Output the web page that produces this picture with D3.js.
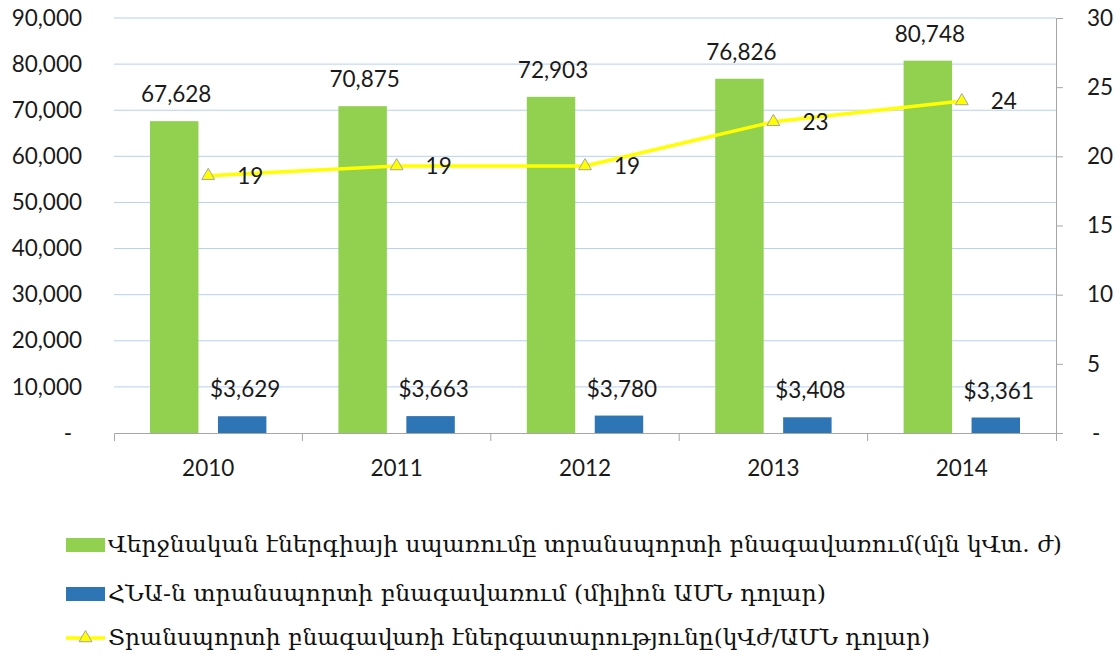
<!DOCTYPE html>
<html>
<head>
<meta charset="utf-8">
<script src="https://cdn.jsdelivr.net/npm/d3@7"></script>
<style>
  body { margin: 0; background: #fff; }
  svg { display: block; }
  .num { font-family: Lato, "Open Sans", sans-serif; font-size: 22.5px; fill: #1a1a1a; }
  .legend text { font-family: "DejaVu Serif", "DejaVu Sans", serif; font-size: 23px; fill: #111; }
</style>
</head>
<body>
<script>
// Years on the category axis
const years = ["2010", "2011", "2012", "2013", "2014"];
// Final energy consumption in transport (million kWh)
const energyUse = [67628, 70875, 72903, 76826, 80748];
// Transport-sector GDP (million USD)
const transportGdp = [3629, 3663, 3780, 3408, 3361];
// Energy intensity of the transport sector (kWh per USD)
const energyIntensity = [18.6, 19.3, 19.3, 22.5, 24.0];
// Axis tick values
const leftTicks = [0, 10000, 20000, 30000, 40000, 50000, 60000, 70000, 80000, 90000];
const rightTicks = [0, 5, 10, 15, 20, 25, 30];
// Legend entries
const legendLabels = [
  "Վերջնական էներգիայի սպառումը տրանսպորտի բնագավառում(մլն կՎտ. ժ)",
  "ՀՆԱ-ն տրանսպորտի բնագավառում (միլիոն ԱՄՆ դոլար)",
  "Տրանսպորտի բնագավառի էներգատարությունը(կՎժ/ԱՄՆ դոլար)"
];

const W = 1120, H = 659;
const plot = { left: 114, right: 1056, top: 18, bottom: 433 };
const colors = { energy: "#92d050", gdp: "#2e75b6", line: "#ffff00", marker: "#a5a5a5" };

const svg = d3.select("body").append("svg").attr("width", W).attr("height", H);

const x = d3.scaleBand().domain(years).range([plot.left, plot.right]);
const xs = d3.scaleBand().domain(["energy", "gdp"]).range([0, x.bandwidth()])
  .paddingInner(0.287).paddingOuter(0.53);
const yL = d3.scaleLinear().domain([0, 90000]).range([plot.bottom, plot.top]);
const yR = d3.scaleLinear().domain([0, 30]).range([plot.bottom, plot.top]);

// Horizontal gridlines
svg.append("g").selectAll("line").data(leftTicks.filter(d => d > 0)).join("line")
  .attr("x1", plot.left).attr("x2", plot.right)
  .attr("y1", d => yL(d)).attr("y2", d => yL(d))
  .attr("stroke", "#b7d0f0").attr("stroke-width", 1);

// Left axis: labels only
const fmt = d3.format(",");
const gL = svg.append("g").attr("transform", `translate(${plot.left},0)`)
  .call(d3.axisLeft(yL).tickValues(leftTicks).tickSize(0).tickPadding(32)
    .tickFormat(d => d === 0 ? "-" : fmt(d)));
gL.select(".domain").remove();
gL.selectAll("text").attr("class", "num").attr("font-family", null).attr("font-size", null)
  .attr("dx", d => d === 0 ? -10 : 0);

// Right axis
const gR = svg.append("g").attr("transform", `translate(${plot.right},0)`)
  .call(d3.axisRight(yR).tickValues(rightTicks).tickSizeInner(7).tickSizeOuter(0).tickPadding(24)
    .tickFormat(d => d === 0 ? "-" : d));
gR.select(".domain").attr("stroke", "#a6a6a6");
gR.selectAll(".tick line").attr("stroke", "#a6a6a6");
gR.selectAll("text").attr("class", "num").attr("font-family", null).attr("font-size", null)
  .attr("dx", d => d === 0 ? 5 : 0);

// Bars
const groups = svg.append("g").selectAll("g").data(years).join("g")
  .attr("transform", d => `translate(${x(d)},0)`);

groups.append("rect")
  .attr("x", xs("energy")).attr("width", xs.bandwidth())
  .attr("y", (d, i) => yL(energyUse[i])).attr("height", (d, i) => yL(0) - yL(energyUse[i]))
  .attr("fill", colors.energy);

groups.append("rect")
  .attr("x", xs("gdp")).attr("width", xs.bandwidth())
  .attr("y", (d, i) => yL(transportGdp[i])).attr("height", (d, i) => yL(0) - yL(transportGdp[i]))
  .attr("fill", colors.gdp);

groups.append("text").attr("class", "num").attr("text-anchor", "middle")
  .attr("x", xs("energy") + xs.bandwidth() / 2 + 2)
  .attr("y", (d, i) => yL(energyUse[i]) - 19)
  .text((d, i) => fmt(energyUse[i]));

groups.append("text").attr("class", "num").attr("text-anchor", "middle")
  .attr("x", xs("gdp") + xs.bandwidth() / 2 + 3)
  .attr("y", (d, i) => yL(transportGdp[i]) - 19)
  .text((d, i) => "$" + fmt(transportGdp[i]));

// Bottom axis
const gX = svg.append("g").attr("transform", `translate(0,${plot.bottom})`)
  .call(d3.axisBottom(x).tickSizeInner(0).tickSizeOuter(8).tickPadding(27));
gX.select(".domain").attr("stroke", "#a6a6a6");
gX.selectAll(".tick line").remove();
gX.selectAll("text").attr("class", "num").attr("font-family", null).attr("font-size", null);
gX.selectAll(".boundary").data(years.slice(1)).join("line").attr("class", "boundary")
  .attr("x1", d => x(d)).attr("x2", d => x(d)).attr("y1", 0).attr("y2", 8)
  .attr("stroke", "#a6a6a6");

// Energy-intensity line
const cx = (d, i) => x(years[i]) + x.bandwidth() / 2;
const line = d3.line().x((d, i) => cx(d, i)).y(d => yR(d));
svg.append("path").datum(energyIntensity)
  .attr("d", line).attr("fill", "none")
  .attr("stroke", colors.line).attr("stroke-width", 3.5).attr("stroke-linejoin", "round");

const tri = d3.symbol().type(d3.symbolTriangle).size(72);
svg.append("g").selectAll("path").data(energyIntensity).join("path")
  .attr("d", tri)
  .attr("transform", (d, i) => `translate(${cx(d, i)},${yR(d)})`)
  .attr("fill", colors.line).attr("stroke", colors.marker).attr("stroke-width", 1);

const f0 = d3.format(".0f");
svg.append("g").selectAll("text").data(energyIntensity).join("text")
  .attr("class", "num")
  .attr("x", (d, i) => cx(d, i) + 29)
  .attr("y", d => yR(d) + 8)
  .text(d => f0(d));

// Legend
const legend = svg.append("g").attr("class", "legend");
const rows = [
  { y: 545, kind: "rect", color: colors.energy, width: 954 },
  { y: 594, kind: "rect", color: colors.gdp, width: 718 },
  { y: 638, kind: "line", color: colors.line, width: 822 }
];
rows.forEach((r, i) => {
  if (r.kind === "rect") {
    legend.append("rect").attr("x", 66).attr("y", r.y - 7).attr("width", 39).attr("height", 14)
      .attr("fill", r.color);
  } else {
    legend.append("line").attr("x1", 66).attr("x2", 105).attr("y1", r.y).attr("y2", r.y)
      .attr("stroke", r.color).attr("stroke-width", 3.5);
    legend.append("path").attr("d", tri).attr("transform", `translate(85.5,${r.y})`)
      .attr("fill", colors.line).attr("stroke", colors.marker).attr("stroke-width", 1);
  }
  legend.append("text").attr("x", 108).attr("y", r.y + 7)
    .attr("textLength", r.width).attr("lengthAdjust", "spacingAndGlyphs")
    .text(legendLabels[i]);
});
</script>
</body>
</html>
